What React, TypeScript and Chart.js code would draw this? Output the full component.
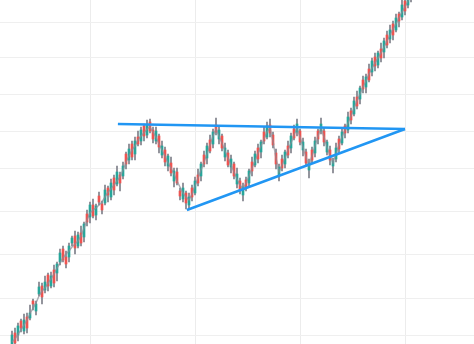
import React, { useEffect, useRef } from "react";
import { Chart, registerables } from "chart.js";

Chart.register(...registerables);

// Candle OHLC values (price units), one entry per session
const opens = [
  -1, 11, 9, 23, 13, 27, 26, 43, 33, 50, 58, 54, 69, 58, 74, 71, 82, 95, 87, 87,
  101, 108, 98, 111, 107, 130, 127, 139, 129, 148, 140, 141, 156, 147, 166, 160, 169, 168, 190, 184,
  200, 190, 207, 203, 218, 209, 222, 214, 203, 208, 189, 194, 178, 181, 163, 172, 153, 145, 151, 139,
  156, 151, 169, 168, 189, 186, 204, 200, 219, 205, 208, 187, 191, 177, 180, 160, 163, 149, 164, 161,
  182, 179, 196, 192, 212, 207, 219, 209, 191, 168, 185, 180, 198, 196, 215, 212, 213, 194, 192, 174,
  194, 191, 213, 213, 213, 192, 194, 178, 185, 205, 201, 218, 214, 233, 230, 247, 245, 264, 257, 275,
  272, 287, 279, 295, 292, 309, 305, 320, 314, 330, 327, 343, 339, 355,
];
const highs = [
  13, 16, 21, 25, 30, 31, 39, 45, 43, 62, 61, 68, 71, 72, 79, 82, 95, 98, 93, 101,
  108, 113, 112, 118, 122, 134, 142, 145, 140, 152, 143, 159, 158, 165, 169, 178, 172, 182, 192, 200,
  203, 207, 213, 217, 220, 224, 225, 217, 217, 210, 203, 197, 190, 187, 176, 176, 156, 161, 153, 151,
  159, 167, 175, 182, 193, 201, 209, 215, 226, 217, 210, 201, 194, 189, 182, 176, 166, 161, 167, 175,
  187, 193, 200, 204, 217, 222, 225, 212, 195, 180, 189, 194, 203, 211, 219, 225, 215, 206, 195, 185,
  197, 207, 215, 226, 216, 204, 198, 186, 201, 208, 216, 220, 232, 236, 247, 253, 258, 268, 270, 280,
  286, 291, 293, 301, 306, 313, 319, 323, 330, 332, 344, 346, 353, 358,
];
const lows = [
  -4, -1, 3, 12, 10, 11, 24, 34, 29, 48, 40, 51, 53, 56, 57, 63, 79, 82, 76, 82,
  98, 90, 96, 98, 102, 118, 121, 126, 124, 139, 130, 139, 142, 144, 149, 158, 153, 165, 175, 180,
  184, 184, 198, 199, 203, 206, 211, 201, 200, 191, 186, 178, 173, 168, 157, 159, 144, 142, 135, 135,
  143, 149, 158, 163, 177, 180, 191, 196, 209, 200, 193, 183, 177, 171, 165, 156, 150, 143, 153, 158,
  168, 177, 181, 186, 200, 205, 207, 196, 175, 163, 173, 176, 186, 191, 204, 208, 199, 188, 178, 166,
  181, 187, 200, 210, 198, 189, 179, 171, 182, 191, 199, 206, 211, 220, 228, 235, 240, 251, 251, 262,
  268, 273, 276, 282, 286, 296, 301, 304, 312, 317, 324, 329, 336, 342,
];
const closes = [
  9, 1, 18, 16, 24, 16, 31, 40, 40, 57, 47, 62, 58, 68, 61, 80, 91, 84, 80, 98,
  106, 96, 109, 101, 120, 122, 139, 128, 138, 142, 134, 154, 149, 161, 154, 172, 161, 178, 180, 195,
  187, 203, 200, 214, 208, 219, 213, 205, 213, 197, 198, 182, 188, 171, 173, 161, 148, 156, 141, 147,
  147, 163, 161, 180, 180, 198, 193, 212, 212, 214, 196, 196, 179, 185, 168, 170, 153, 157, 157, 173,
  173, 190, 185, 202, 203, 218, 211, 199, 180, 177, 176, 192, 189, 208, 206, 220, 202, 202, 181, 181,
  184, 203, 205, 220, 202, 202, 184, 183, 196, 195, 212, 211, 227, 224, 243, 238, 256, 255, 267, 264,
  283, 278, 291, 286, 303, 299, 314, 309, 326, 323, 339, 333, 349, 347,
];
// Underlying price path (grey line)
const basePath = [
  2, 5, 10, 14, 19, 24, 30, 36, 41, 48, 53, 56, 61, 65, 70, 76, 81, 86, 90, 93,
  97, 100, 103, 108, 116, 124, 131, 134, 136, 139, 142, 147, 152, 155, 159, 163, 167, 174, 182, 188,
  194, 198, 204, 208, 211, 215, 217, 212, 207, 200, 194, 188, 181, 176, 170, 163, 157, 151, 147, 144,
  150, 158, 166, 174, 182, 190, 199, 208, 215, 208, 201, 193, 186, 179, 172, 165, 159, 155, 161, 168,
  176, 183, 191, 198, 205, 212, 216, 203, 186, 172, 179, 186, 194, 201, 209, 216, 207, 197, 187, 178,
  188, 198, 208, 216, 207, 197, 188, 181, 190, 199, 207, 214, 221, 228, 236, 243, 250, 257, 263, 270,
  276, 281, 286, 291, 297, 303, 309, 315, 320, 326, 332, 337, 343, 350,
];
// Pattern lines (candle index, price)
const resistanceX = [35.3, 131];
const resistanceY = [220, 215];
const supportX = [58.3, 131];
const supportY = [134, 215];

const yGridValues = [322, 286, 250, 213, 176, 133, 90, 46, 9];
const xGridValues = [26, 61, 96, 131];

export default function App() {
  const ref = useRef<HTMLCanvasElement>(null);
  useEffect(() => {
    document.body.style.margin = "0";
    const up = "#26a69a";
    const down = "#ef5350";
    const wick = "#7d7f89";
    const bodyColors = opens.map((o, i) => (closes[i] >= o ? up : down));
    const chart = new Chart(ref.current!, {
      type: "bar",
      data: {
        datasets: [
          {
            type: "line",
            data: resistanceX.map((x, i) => ({ x, y: resistanceY[i] })),
            borderColor: "#2196f3",
            borderWidth: 2.5,
            pointRadius: 0,
            order: 0,
          } as any,
          {
            type: "line",
            data: supportX.map((x, i) => ({ x, y: supportY[i] })),
            borderColor: "#2196f3",
            borderWidth: 2.5,
            pointRadius: 0,
            order: 0,
          } as any,
          {
            type: "line",
            data: basePath.map((v, i) => ({ x: i, y: v })),
            borderColor: "rgba(140,140,150,0.7)",
            borderWidth: 1.5,
            pointRadius: 0,
            order: 1,
          } as any,
          {
            type: "bar",
            data: opens.map((o, i) => ({ x: i, y: [o, closes[i]] })),
            backgroundColor: bodyColors,
            barThickness: 2,
            grouped: false,
            order: 2,
          } as any,
          {
            type: "bar",
            data: lows.map((l, i) => ({ x: i, y: [l, highs[i]] })),
            backgroundColor: wick,
            barThickness: 1,
            grouped: false,
            order: 3,
          } as any,
        ],
      },
      options: {
        animation: false,
        responsive: false,
        maintainAspectRatio: false,
        layout: { padding: 0 },
        plugins: { legend: { display: false }, tooltip: { enabled: false } },
        scales: {
          x: {
            type: "linear",
            min: -4,
            max: 154,
            offset: false,
            ticks: { display: false },
            border: { display: false },
            grid: { color: "#ececec", drawTicks: false, tickLength: 0, offset: false },
            afterBuildTicks: (s: any) => {
              s.ticks = xGridValues.map((v) => ({ value: v }));
            },
          },
          y: {
            type: "linear",
            min: 0,
            max: 344,
            ticks: { display: false },
            border: { display: false },
            grid: { color: "#efefef", drawTicks: false, tickLength: 0 },
            afterBuildTicks: (s: any) => {
              s.ticks = yGridValues.map((v) => ({ value: v }));
            },
          },
        },
      } as any,
    });
    return () => chart.destroy();
  }, []);
  return <canvas ref={ref} width={474} height={344} style={{ display: "block" }} />;
}
